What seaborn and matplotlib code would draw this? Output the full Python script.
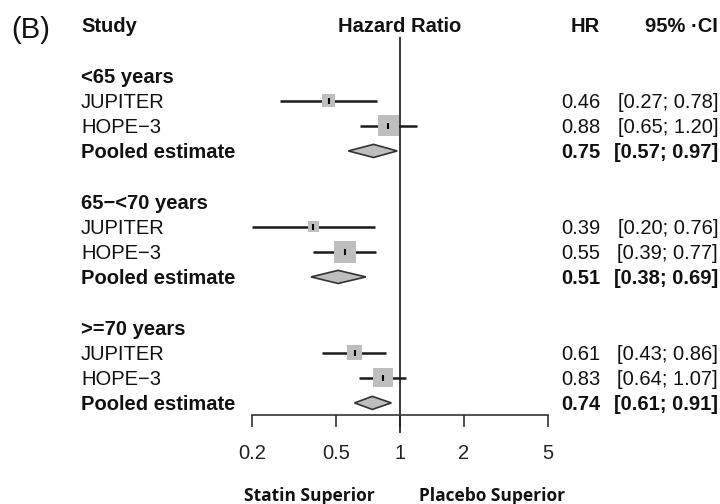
import numpy as np
import pandas as pd
import matplotlib
matplotlib.use("Agg")
import matplotlib.pyplot as plt
import seaborn as sns
from matplotlib.patches import Polygon
from matplotlib import transforms
from matplotlib.ticker import NullLocator

# ---------------- data ----------------
groups = ["<65 years", "65\u2212<70 years", ">=70 years"]
studies = ["JUPITER", "HOPE\u22123"]
hr = [0.46, 0.88, 0.39, 0.55, 0.61, 0.83]
ci_lo = [0.27, 0.65, 0.20, 0.39, 0.43, 0.64]
ci_hi = [0.78, 1.20, 0.76, 0.77, 0.86, 1.07]
weights = [27.7, 72.3, 20.0, 80.0, 38.4, 61.6]
pooled_hr = [0.75, 0.51, 0.74]
pooled_lo = [0.57, 0.38, 0.61]
pooled_hi = [0.97, 0.69, 0.91]
xticks = [0.2, 0.5, 1, 2, 5]
xtick_labels = ["0.2", "0.5", "1", "2", "5"]

# ---------------- style ----------------
sns.set_theme(style="white")
plt.rcParams["font.family"] = ["Liberation Sans", "DejaVu Sans"]
FS = 14.5
SQ = "#BEBEBE"
INK = "#1a1a1a"

fig = plt.figure(figsize=(7.2, 5.04), dpi=100)
W, H = 720, 504
ax = fig.add_axes([252 / W, 89 / H, 296 / W, 415 / H])
ax.set_xscale("log")
ax.set_xlim(0.2, 5)
ax.set_ylim(15.48, -0.99)
ax.patch.set_alpha(0)

# row layout
rows_study, rows_pooled, rows_group = [], [], []
r = 2
for g in groups:
    rows_group.append(r)
    r += 1
    for s in studies:
        rows_study.append(r)
        r += 1
    rows_pooled.append(r)
    r += 2

df = pd.DataFrame({
    "study": studies * len(groups),
    "hr": hr, "lo": ci_lo, "hi": ci_hi, "w": weights, "row": rows_study,
})
side_pt = 22 * 0.72 * np.sqrt(df["w"] / df["w"].max())
df["area"] = side_pt ** 2

# reference line at HR = 1
ax.vlines(1, 0.48, 16.2, color=INK, lw=1.2, clip_on=False, zorder=1)

# CI lines
ax.hlines(df["row"], df["lo"], df["hi"], color=INK, lw=1.8, zorder=2)

# squares
amin, amax = df["area"].min(), df["area"].max()
sns.scatterplot(data=df, x="hr", y="row", size="area", sizes=(amin, amax),
                size_norm=(amin, amax), marker="s", color=SQ, linewidth=0,
                legend=False, ax=ax, zorder=3)
ax.plot(df["hr"], df["row"], ls="none", marker="|", color="black",
        markersize=5, mew=1.5, zorder=4)

# pooled diamonds
for ph, pl, pu, pr in zip(pooled_hr, pooled_lo, pooled_hi, rows_pooled):
    ax.add_patch(Polygon([(pl, pr), (ph, pr - 0.26), (pu, pr), (ph, pr + 0.26)],
                         closed=True, facecolor=SQ, edgecolor="#333333",
                         lw=1.2, zorder=3))

# axis
sns.despine(ax=ax, left=True, top=True, right=True)
ax.spines["bottom"].set_color("#333333")
ax.spines["bottom"].set_linewidth(1.2)
ax.set_xticks(xticks)
ax.set_xticklabels(xtick_labels)
ax.xaxis.set_minor_locator(NullLocator())
ax.tick_params(axis="x", bottom=True, length=8.6, width=1.2, color="#333333",
               pad=12, labelsize=FS, labelcolor="#222222")
ax.set_yticks([])
ax.set_xlabel("")
ax.set_ylabel("")
ax.grid(False)

# ---------------- text ----------------
tr = transforms.blended_transform_factory(fig.transFigure, ax.transData)
xl, xhr, xci = 81 / W, 600 / W, 718 / W
DY = 0.29  # baseline offset so cap height is centred on the row
kw = dict(transform=tr, va="baseline", fontsize=FS, color="#111111")

ax.text(xl, DY, "Study", fontweight="bold", **kw)
ax.text(1, DY, "Hazard Ratio", ha="center", va="baseline", fontsize=FS,
        fontweight="bold", color="#111111")
ax.text(xhr, DY, "HR", ha="right", fontweight="bold", **kw)
ax.text(xci, DY, "95% \u00b7CI", ha="right", fontweight="bold", **kw)

for g, gr in zip(groups, rows_group):
    ax.text(xl, gr + DY, g, fontweight="bold", **kw)
for _, row in df.iterrows():
    y = row["row"] + DY
    ax.text(xl, y, row["study"], **kw)
    ax.text(xhr, y, f"{row['hr']:.2f}", ha="right", **kw)
    ax.text(xci, y, f"[{row['lo']:.2f}; {row['hi']:.2f}]", ha="right", **kw)
for ph, pl, pu, pr in zip(pooled_hr, pooled_lo, pooled_hi, rows_pooled):
    y = pr + DY
    ax.text(xl, y, "Pooled estimate", fontweight="bold", **kw)
    ax.text(xhr, y, f"{ph:.2f}", ha="right", fontweight="bold", **kw)
    ax.text(xci, y, f"[{pl:.2f}; {pu:.2f}]", ha="right", fontweight="bold", **kw)

fig.text(11 / W, 1 - 30 / H, "(B)", ha="left", va="center", fontsize=21, color="#111111")
fig.text(309 / W, 1 - 496 / H, "Statin Superior", ha="center", va="center",
         fontsize=12.5, fontweight="bold", family=["Open Sans", "DejaVu Sans"], color="#111111")
fig.text(492 / W, 1 - 496 / H, "Placebo Superior", ha="center", va="center",
         fontsize=12.5, fontweight="bold", family=["Open Sans", "DejaVu Sans"], color="#111111")

fig.savefig("out.png", dpi=100)
